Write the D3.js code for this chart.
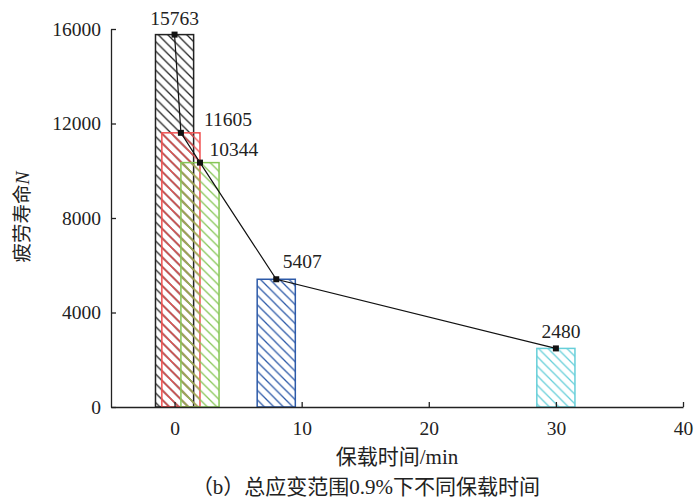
<!DOCTYPE html>
<meta charset="utf-8">

<script src="https://d3js.org/d3.v7.min.js"></script>

<style type="text/css">

body { margin: 0; background: #fff; }
text { font-family: "Liberation Serif", "Noto Sans CJK SC", serif; fill: #222; }

</style>

<body>
</body>

<script>

// data
var holdTimes = [0, 0.5, 2, 8, 30];              // 保载时间 (min)
var fatigueLife = [15763, 11605, 10344, 5407, 2480];
var barColors = ["#222222", "#f05050", "#86c656", "#2d5aa8", "#66cfd9"];
var xTicks = [0, 10, 20, 30, 40];
var yTicks = [0, 4000, 8000, 12000, 16000];

var xLabel = "保载时间/min";
var yLabel = "疲劳寿命";
var caption = "（b）总应变范围0.9%下不同保载时间";

var width = 699, height = 498;

var svg = d3.select("body").append("svg")
  .attr("width", width)
  .attr("height", height);

// scales
var xScale = d3.scaleLinear()
  .domain([-5, 40])
  .range([111, 683]);

var yScale = d3.scaleLinear()
  .domain([0, 16000])
  .range([407, 29]);

var barWidth = 3; // in minutes

var data = holdTimes.map(function(t, i) {
  return {t: t, n: fatigueLife[i], color: barColors[i]};
});

// hatch patterns, one per colour
var defs = svg.append("defs");
data.forEach(function(d, i) {
  var p = defs.append("pattern")
    .attr("id", "hatch" + i)
    .attr("patternUnits", "userSpaceOnUse")
    .attr("width", 9.5)
    .attr("height", 9.5);
  p.append("path")
    .attr("d", "M-2,-2 L11.5,11.5 M-2,7.5 L2,11.5 M7.5,-2 L11.5,2")
    .attr("stroke", d.color)
    .attr("stroke-width", 1.3);
});

// bars
svg.selectAll(".bar")
  .data(data)
  .enter().append("rect")
  .attr("class", "bar")
  .attr("x", function(d) { return xScale(d.t - barWidth / 2); })
  .attr("y", function(d) { return yScale(d.n); })
  .attr("width", function(d) { return xScale(d.t + barWidth / 2) - xScale(d.t - barWidth / 2); })
  .attr("height", function(d) { return yScale(0) - yScale(d.n); })
  .attr("fill", function(d, i) { return "url(#hatch" + i + ")"; })
  .attr("stroke", function(d) { return d.color; })
  .attr("stroke-width", 1.5);

// axes
var xAxis = d3.axisBottom(xScale)
  .tickValues(xTicks)
  .tickFormat(d3.format("d"))
  .tickSizeInner(-5)
  .tickSizeOuter(0)
  .tickPadding(14);

var yAxis = d3.axisLeft(yScale)
  .tickValues(yTicks)
  .tickFormat(d3.format("d"))
  .tickSizeInner(-5)
  .tickSizeOuter(0)
  .tickPadding(10);

var xAxisGroup = svg.append("g")
  .attr("class", "x axis")
  .attr("transform", "translate(0," + yScale(0) + ")")
  .call(xAxis);

var yAxisGroup = svg.append("g")
  .attr("class", "y axis")
  .attr("transform", "translate(" + xScale(-5) + ",0)")
  .call(yAxis);

svg.selectAll(".axis path, .axis line")
  .attr("stroke", "#222")
  .attr("stroke-width", 1.3);
svg.selectAll(".axis text")
  .style("font-family", "Liberation Serif, serif")
  .style("font-size", "19.5px")
  .attr("fill", "#222");

// connecting line and markers
var line = d3.line()
  .x(function(d) { return xScale(d.t); })
  .y(function(d) { return yScale(d.n); });

svg.append("path")
  .datum(data)
  .attr("d", line)
  .attr("fill", "none")
  .attr("stroke", "#111")
  .attr("stroke-width", 1.2);

svg.selectAll(".marker")
  .data(data)
  .enter().append("rect")
  .attr("class", "marker")
  .attr("x", function(d) { return xScale(d.t) - 3; })
  .attr("y", function(d) { return yScale(d.n) - 3; })
  .attr("width", 6)
  .attr("height", 6)
  .attr("fill", "#111");

// value labels; nudges keep them clear of the taller bars
var labelNudge = [[0, -10], [47, -7], [34, -7], [26, -11], [5, -10]];
svg.selectAll(".value")
  .data(data)
  .enter().append("text")
  .attr("class", "value")
  .attr("x", function(d, i) { return xScale(d.t) + labelNudge[i][0]; })
  .attr("y", function(d, i) { return yScale(d.n) + labelNudge[i][1]; })
  .attr("text-anchor", "middle")
  .style("font-size", "19.5px")
  .text(function(d) { return d.n; });

// axis titles
svg.append("text")
  .attr("x", (xScale.range()[0] + xScale.range()[1]) / 2)
  .attr("y", 464)
  .attr("text-anchor", "middle")
  .style("font-size", "21px")
  .text(xLabel);

var yTitle = svg.append("text")
  .attr("transform", "translate(29,217) rotate(-90)")
  .attr("text-anchor", "middle")
  .style("font-size", "19.5px")
  .text(yLabel);
yTitle.append("tspan")
  .style("font-style", "italic")
  .text("N");

svg.append("text")
  .attr("x", 366)
  .attr("y", 494)
  .attr("text-anchor", "middle")
  .style("font-size", "21px")
  .text(caption);

</script>
